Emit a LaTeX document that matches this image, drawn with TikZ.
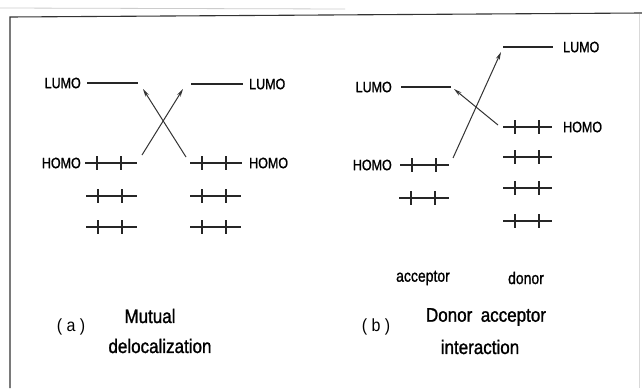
\documentclass[tikz,border=0pt]{standalone}
\usepackage{graphicx}
\usepackage{fontspec}
\setmainfont{Liberation Sans}
\newfontfamily\medfont{Liberation Sans}[FakeBold=1.3]
\usetikzlibrary{arrows.meta,calc}
\newcommand\tallbox[2]{\scalebox{1}[#1]{#2}}
\tikzset{
  lvl/.style={line width=1.2pt,black!85},
  tick/.style={line width=1.2pt,black!85},
  xfer/.style={line width=1pt,black!80,-{Stealth[length=8pt,width=4pt]}},
  molbl/.style={font=\fontsize{12.5}{14}\medfont,inner sep=0pt},
  rolelbl/.style={font=\fontsize{14}{16}\medfont,inner sep=0pt},
  caption/.style={font=\fontsize{17}{30}\medfont,inner sep=0pt,align=center},
  tag/.style={font=\fontsize{16}{20}\selectfont,inner sep=0pt},
  frame/.style={line width=1.1pt,black!80}
}
\newcommand\molevel[5]{%
  \coordinate (#1-w) at (#2,#4);
  \coordinate (#1-e) at (#3,#4);
  \draw[lvl] (#1-w) -- (#1-e);
  \ifnum#5=1
    \draw[tick] ($(#1-w)+(12,-7)$) -- ($(#1-w)+(12,7)$);
    \draw[tick] ($(#1-w)+(36,-7)$) -- ($(#1-w)+(36,7)$);
  \fi}
\begin{document}
\begin{tikzpicture}[x=1pt,y=-1pt]
\useasboundingbox (0,0) rectangle (642,388);
\fill[white] (0,0) rectangle (642,388);
% frame
\coordinate (fbl) at (10,388);
\coordinate (ftl) at (10,17);
\coordinate (ftr) at (642,13);
\draw[frame] (fbl) -- (ftl) -- (ftr);
\coordinate (frt) at (639,14);
\coordinate (frb) at (639,388);
\draw[black!15,line width=0.8pt] (frt) -- (frb);
\coordinate (fa) at (0,8);
\coordinate (fb) at (345,9);
\draw[black!20,line width=0.8pt] (fa) -- (fb);

% ---- panel (a)
\molevel{aL1}{87}{138}{83}{0}
\molevel{aL2}{191}{243}{84}{0}
\molevel{aH1}{85}{137}{163}{1}
\molevel{aH2}{190}{242}{163}{1}
\molevel{aA2}{86}{137}{196}{1}
\molevel{aA3}{86}{137}{227}{1}
\molevel{aB2}{190}{241}{196}{1}
\molevel{aB3}{190}{241}{227}{1}
\node[molbl,anchor=east] (aLt1) at (81,83) {\tallbox{1.2}{LUMO}};
\node[molbl,anchor=west] (aLt2) at (249,84) {\tallbox{1.2}{LUMO}};
\node[molbl,anchor=east] (aHt1) at (81,163) {\tallbox{1.2}{HOMO}};
\node[molbl,anchor=west] (aHt2) at (249,163) {\tallbox{1.2}{HOMO}};
\coordinate (ax1s) at (142,155);
\coordinate (ax1e) at (183,89);
\coordinate (ax2s) at (186,157);
\coordinate (ax2e) at (143,89);
\draw[xfer] (ax1s) -- (ax1e);
\draw[xfer] (ax2s) -- (ax2e);
\node[tag] (alab) at (71,327) {\tallbox{1.1}{( a )}};
\node[caption] (acap1) at (150,316) {\tallbox{1.15}{Mutual}};
\node[caption] (acap2) at (160,346) {\tallbox{1.15}{delocalization}};

% ---- panel (b)
\molevel{bL1}{401}{451}{87}{0}
\molevel{bH1}{400}{449}{165}{1}
\molevel{bA2}{399}{449}{198}{1}
\molevel{bL2}{503}{553}{47}{0}
\molevel{bH2}{503}{552}{127}{1}
\molevel{bD2}{503}{552}{157}{1}
\molevel{bD3}{503}{552}{188}{1}
\molevel{bD4}{503}{552}{221}{1}
\node[molbl,anchor=east] (bLt1) at (392,87) {\tallbox{1.2}{LUMO}};
\node[molbl,anchor=east] (bHt1) at (392,165) {\tallbox{1.2}{HOMO}};
\node[molbl,anchor=west] (bLt2) at (563,47) {\tallbox{1.2}{LUMO}};
\node[molbl,anchor=west] (bHt2) at (563,127) {\tallbox{1.2}{HOMO}};
\coordinate (bx1s) at (453,158);
\coordinate (bx1e) at (501,52);
\coordinate (bx2s) at (498,125);
\coordinate (bx2e) at (454,89);
\draw[xfer] (bx1s) -- (bx1e);
\draw[xfer] (bx2s) -- (bx2e);
\node[rolelbl] (bacc) at (423,278) {\tallbox{1.2}{acceptor}};
\node[rolelbl] (bdon) at (526,278) {\tallbox{1.2}{donor}};
\node[tag] (blab) at (376,327) {\tallbox{1.1}{( b )}};
\node[caption] (bcap1) at (486,317) {\tallbox{1.15}{Donor\enspace acceptor}};
\node[caption] (bcap2) at (480,347) {\tallbox{1.15}{interaction}};
\end{tikzpicture}
\end{document}
